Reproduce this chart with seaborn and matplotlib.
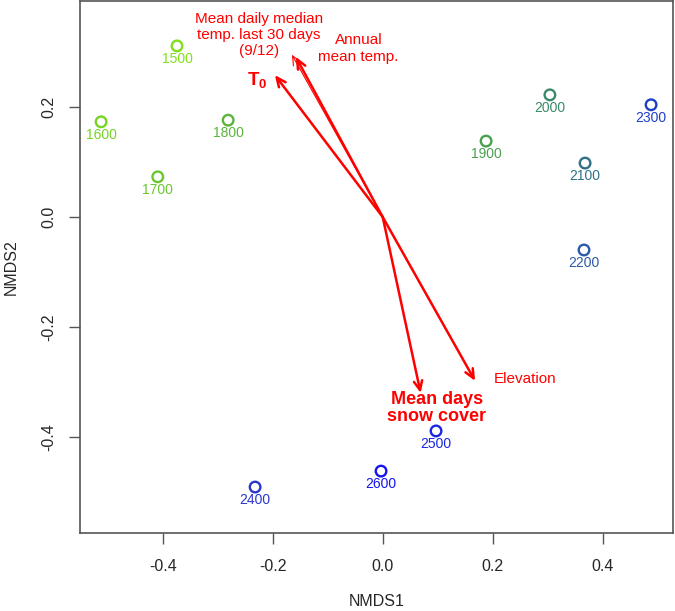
import matplotlib
matplotlib.use("Agg")
import matplotlib.pyplot as plt
import pandas as pd
import seaborn as sns

# site scores (NMDS ordination), labelled by elevation
elevation = ["1500", "1600", "1700", "1800", "1900", "2000",
             "2100", "2200", "2300", "2400", "2500", "2600"]
nmds1 = [-0.374, -0.512, -0.409, -0.281, 0.188, 0.304,
         0.368, 0.366, 0.488, -0.232, 0.097, -0.003]
nmds2 = [0.311, 0.173, 0.073, 0.176, 0.138, 0.222,
         0.098, -0.060, 0.204, -0.491, -0.389, -0.462]
site_colors = ["#7fe01a", "#76d422", "#6ac72e", "#5cb43c", "#4aa04e", "#3a8a68",
               "#2e7285", "#2a5aa8", "#1e3ec4", "#2a36cc", "#1a26e0", "#1414ee"]

# fitted environmental vectors
vec_names = ["Mean daily median\ntemp. last 30 days\n(9/12)", "Annual\nmean temp.",
             r"$\mathbf{T_0}$", "Mean days\nsnow cover", "Elevation"]
vec_x = [-0.165, -0.158, -0.196, 0.069, 0.168]
vec_y = [0.295, 0.291, 0.258, -0.320, -0.298]

# label styling per vector
vec_bold = [False, False, True, True, False]
vec_lw = [0.8, 1.8, 1.8, 1.8, 1.8]
vec_fs = [11, 11, 13.5, 13, 11]
vec_ls = [1.2, 1.2, 1.0, 1.0, 1.0]
vec_offset = [(-24, 14), (45, 6), (-13, -3.5), (11.5, -11), (36, 1.5)]

sns.set_theme(style="white")
plt.rcParams["font.family"] = ["Liberation Sans", "DejaVu Sans"]
plt.rcParams["mathtext.fontset"] = "custom"
plt.rcParams["mathtext.rm"] = "Liberation Sans"
plt.rcParams["mathtext.bf"] = "Liberation Sans:bold"

df = pd.DataFrame({"site": elevation, "NMDS1": nmds1, "NMDS2": nmds2})

fig = plt.figure(figsize=(6.75, 6.11), dpi=100)
ax = fig.add_axes([0.1185, 0.1277, 0.8785, 0.8707])

sns.scatterplot(data=df, x="NMDS1", y="NMDS2", hue="site", palette=site_colors,
                s=58, legend=False, ax=ax, zorder=3)
pts = ax.collections[0]
pts.set_edgecolors(pts.get_facecolors())
pts.set_facecolors("none")
pts.set_linewidths(1.7)

for lab, x, y, c in zip(df["site"], df["NMDS1"], df["NMDS2"], site_colors):
    ax.annotate(lab, (x, y), xytext=(0, -9.5), textcoords="offset points",
                ha="center", va="center", fontsize=10, color=c)

for name, x, y, bold, lw, fs, ls, off in zip(vec_names, vec_x, vec_y, vec_bold,
                                             vec_lw, vec_fs, vec_ls, vec_offset):
    ax.annotate("", xy=(x, y), xytext=(0, 0),
                arrowprops=dict(arrowstyle="->,head_length=0.55,head_width=0.25",
                                color="red", lw=lw, shrinkA=0, shrinkB=0))
    ax.annotate(name, (x, y), xytext=off, textcoords="offset points",
                ha="center", va="center", fontsize=fs, color="red",
                fontweight="bold" if bold else "normal", linespacing=ls)

ax.set_xlim(-0.5504, 0.5278)
ax.set_ylim(-0.5745, 0.3927)
ax.set_xticks([-0.4, -0.2, 0.0, 0.2, 0.4])
ax.set_yticks([-0.4, -0.2, 0.0, 0.2])
ax.set_xticklabels(["-0.4", "-0.2", "0.0", "0.2", "0.4"])
ax.set_yticklabels(["-0.4", "-0.2", "0.0", "0.2"], rotation=90, va="center")
ax.tick_params(axis="both", which="major", length=8, width=1, color="#555555",
               labelsize=11.5, bottom=True, left=True)
ax.tick_params(axis="x", pad=11)
ax.tick_params(axis="y", pad=9)
for sp in ax.spines.values():
    sp.set_color("#555555")
    sp.set_linewidth(1.2)
ax.set_xlabel("NMDS1", fontsize=11.5, labelpad=14)
ax.set_ylabel("NMDS2", fontsize=11.5, labelpad=16)

fig.savefig("out.png", dpi=100)
